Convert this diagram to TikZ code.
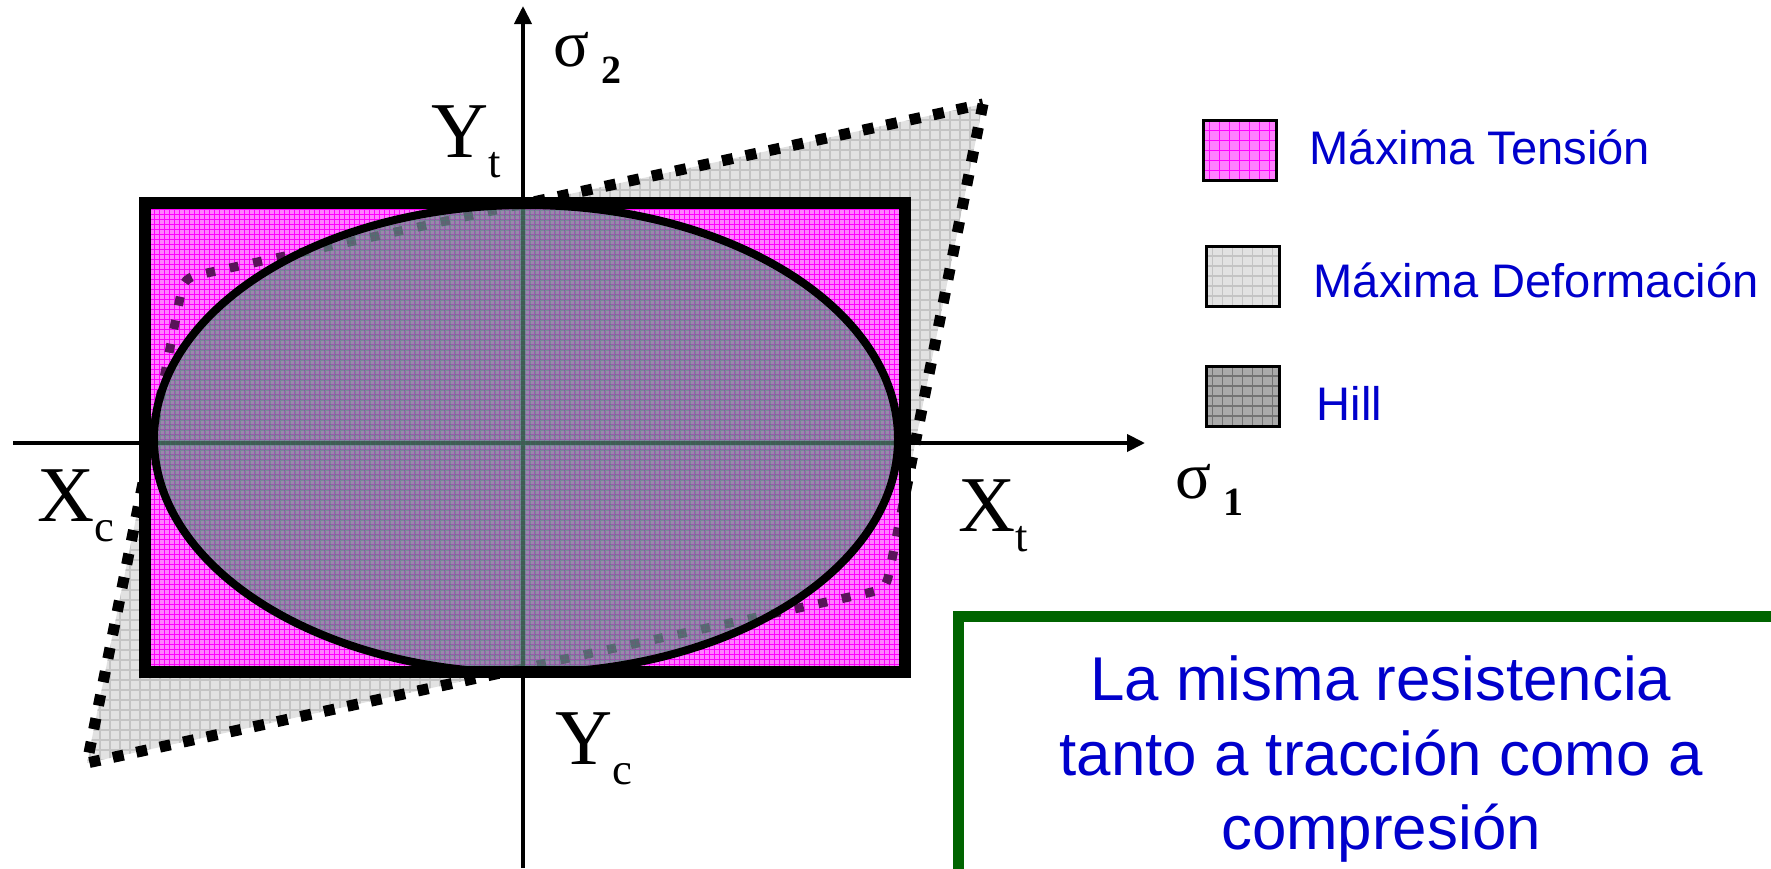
\documentclass[tikz,border=0pt]{standalone}
\usepackage{fontspec}
\setmainfont{Liberation Serif}
\newfontfamily\legfont{Liberation Sans}
\usepackage{xcolor}
\usetikzlibrary{arrows.meta,calc}

\definecolor{pinkc}{RGB}{255,128,255}
\definecolor{gridpink}{RGB}{255,0,255}
\definecolor{lgray}{RGB}{226,226,226}
\definecolor{gridgray}{RGB}{196,196,196}
\definecolor{hillc}{RGB}{100,140,130}
\definecolor{gridhill}{RGB}{40,140,100}
\definecolor{dgray}{RGB}{170,170,170}
\definecolor{dotpurple}{RGB}{90,20,90}
\definecolor{txtblue}{RGB}{0,0,204}
\definecolor{boxgreen}{RGB}{0,100,0}

\newcommand{\strainpath}{(q1) -- ($(q4)!2.5mm!(q1)$) .. controls (q4) .. ($(q4)!2.5mm!(q3)$) -- (q3) -- ($(q2)!2.5mm!(q3)$) .. controls (q2) .. ($(q2)!2.5mm!(q1)$) -- cycle}
\newcommand{\lowsub}[1]{\raisebox{-2mm}{\fontsize{12.7}{14}\selectfont #1}}
\newcommand{\sigsub}[1]{\raisebox{-1.7mm}{\fontsize{11.4}{12}\selectfont\bfseries #1}}

\begin{document}
\begin{tikzpicture}[x=0.1mm,y=-0.1mm,
  tension/.style={fill=pinkc,path picture={\draw[gridpink,line width=0.1mm] (path picture bounding box.south west) grid[step=#1] (path picture bounding box.north east);}},
  tension/.default=0.5mm,
  deform/.style={fill=lgray,path picture={\draw[gridgray,line width=0.15mm] (path picture bounding box.south west) grid[step=#1] (path picture bounding box.north east);}},
  deform/.default=1mm,
  hill/.style={fill=hillc,fill opacity=0.65,path picture={\draw[gridhill,line width=0.08mm,opacity=0.3] (path picture bounding box.south west) grid[step=0.5mm] (path picture bounding box.north east);}},
  hillleg/.style={fill=dgray,path picture={\draw[black!55,line width=0.15mm] (path picture bounding box.south west) grid[step=1mm] (path picture bounding box.north east);}},
  dots/.style={line width=1.1mm,dash pattern=on 1.1mm off 1.3mm},
  axis/.style={line width=0.4mm,-{Triangle[length=1.8mm,width=1.7mm]}},
  lbl/.style={font=\fontsize{22.5}{27}\selectfont,inner sep=0,anchor=base west},
  sig/.style={font=\fontsize{19}{22}\selectfont,inner sep=0,anchor=base west},
  leg/.style={draw,line width=0.3mm,minimum width=7.3mm,minimum height=6mm,inner sep=0},
  legtxt/.style={font=\legfont\fontsize{13.4}{16}\selectfont,text=txtblue,inner sep=0,anchor=base west}
]
\useasboundingbox (0,0) rectangle (1771,868);
\clip (0,0) rectangle (1771,868);

\coordinate (q1) at (983,104);
\coordinate (q2) at (184,278);
\coordinate (q3) at (87,763);
\coordinate (q4) at (886,589);

\fill[deform] \strainpath;
\draw[dots] \strainpath;
\fill[tension] (145,203) rectangle (905,672);
\begin{scope}
  \clip (145,203) rectangle (905,672);
  \draw[dotpurple,line width=0.9mm,dash pattern=on 0.9mm off 1.5mm] \strainpath;
\end{scope}

\draw[axis] (523,868) -- (523,6);
\draw[axis] (13,443) -- (1145,443);

\fill[hill] (526,439) ellipse [x radius=37.2mm,y radius=23.4mm];
\draw[line width=1.2mm] (145,203) rectangle (905,672);
\draw[line width=0.8mm] (526,439) ellipse [x radius=37.2mm,y radius=23.4mm];

\node[lbl] (yt) at (431,157) {Y\lowsub{t}};
\node[lbl] (xc) at (37,521) {X\lowsub{c}};
\node[lbl] (xt) at (958,531) {X\lowsub{t}};
\node[lbl] (yc) at (555,764) {Y\lowsub{c}};
\node[sig] (s2) at (553,66) {σ\hspace{1.2mm}\sigsub{2}};
\node[sig] (s1) at (1175,498) {σ\hspace{1.2mm}\sigsub{1}};

\node[leg,tension=1mm] (legT) at (1239.5,150.5) {};
\node[leg,deform] (legD) at (1242.5,276) {};
\node[leg,hillleg] (legH) at (1242.5,396) {};
\node[legtxt] (txtT) at (1309,164) {Máxima Tensión};
\node[legtxt] (txtD) at (1313,297) {Máxima Deformación};
\node[legtxt] (txtH) at (1316,420) {Hill};

\draw[boxgreen,line width=1.1mm] (958,616) rectangle (1830,960);
\node[font=\legfont\fontsize{17.6}{21.3}\selectfont,text=txtblue,align=center] (note) at (1381,759)
  {La misma resistencia\\tanto a tracción como a\\compresión};
\end{tikzpicture}
\end{document}
